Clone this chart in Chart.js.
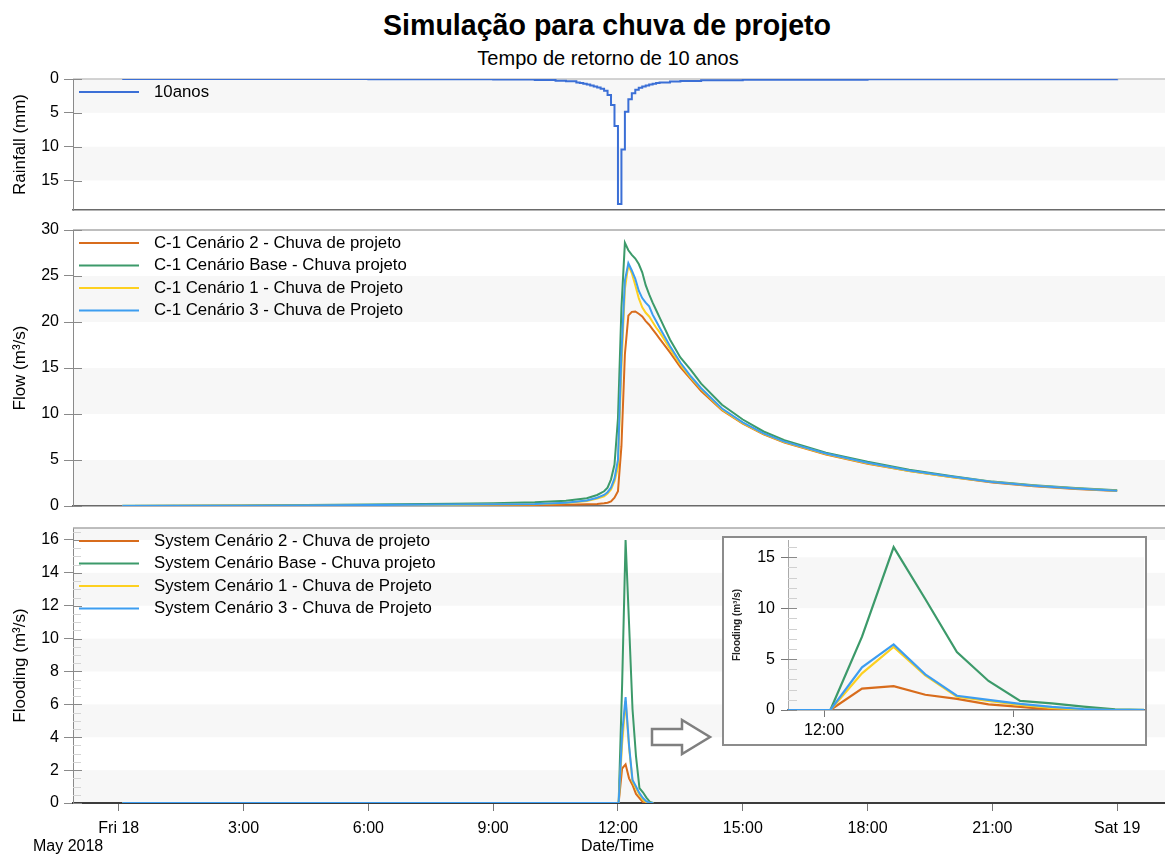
<!DOCTYPE html>
<html>
<head>
<meta charset="utf-8">
<script src="https://cdn.jsdelivr.net/npm/chart.js@4.4.1/dist/chart.umd.min.js"></script>
<style>
body { margin: 0; background: #fff; width: 1165px; height: 855px; overflow: hidden; position: relative; font-family: "Liberation Sans", Arial, sans-serif; }
canvas { position: absolute; left: 0; }
.txt { position: absolute; white-space: nowrap; color: #000; }
#title { top: 9px; left: 0; width: 1214px; text-align: center; font-weight: bold; font-size: 28.6px; line-height: 32px; }
#sub { top: 47px; left: 0; width: 1216px; text-align: center; font-size: 20px; line-height: 22px; }
#may { left: 33px; top: 837px; font-size: 16px; line-height: 18px; }
#dt { left: 581px; top: 837px; font-size: 16px; line-height: 18px; }
#inset { position: absolute; left: 722px; top: 536px; width: 421px; height: 206px; border: 2px solid #8c8c8c; background: #fff; }
#inset canvas { top: 0; left: 0; }
#arrow { position: absolute; left: 0; top: 0; }
</style>
</head>
<body>
<div id="title" class="txt">Simulação para chuva de projeto</div>
<div id="sub" class="txt">Tempo de retorno de 10 anos</div>
<canvas id="cRain" width="1165" height="160" style="top:60px"></canvas>
<canvas id="cFlow" width="1165" height="296" style="top:220px"></canvas>
<canvas id="cFlood" width="1165" height="337" style="top:518px"></canvas>
<div id="may" class="txt">May 2018</div>
<div id="dt" class="txt">Date/Time</div>
<svg id="arrow" width="1165" height="855">
  <polygon points="652,729 682,729 682,720 710,737 682,754 682,745 652,745" fill="#fff" stroke="#7f7f7f" stroke-width="2.5" stroke-linejoin="miter"/>
</svg>
<div id="inset"><canvas id="cInset" width="421" height="206"></canvas></div>

<script>
// rainfall hyetograph, 10-year return period (value holds from the given time)
const rainTimes = ['00:05','06:00','08:00','09:00','10:00','10:30','10:45','11:00','11:05','11:10',
  '11:15','11:20','11:25','11:30','11:35','11:40','11:45','11:50','11:55','12:00',
  '12:05','12:10','12:15','12:20','12:25','12:30','12:35','12:40','12:45','12:50',
  '12:55','13:00','13:15','13:30','14:00','15:00','18:00','24:00']
const rainValues = [0.01,0.03,0.05,0.08,0.15,0.25,0.35,0.5,0.6,0.7,
  0.8,0.95,1.1,1.25,1.45,1.75,2.35,3.85,6.95,18.45,
  10.4,4.85,3.0,2.1,1.6,1.3,1.1,0.95,0.8,0.7,
  0.6,0.5,0.38,0.28,0.18,0.1,0.04,0.02]

// flow at C-1
const flowTimes = ['00:05','03:00','06:00','08:00','09:00','10:00','10:45','11:15','11:30','11:40',
  '11:45','11:50','11:55','12:00','12:05','12:10','12:15','12:20','12:25','12:30',
  '12:35','12:40','12:45','12:50','12:55','13:00','13:15','13:30','13:45','14:00',
  '14:30','15:00','15:30','16:00','17:00','18:00','19:00','20:00','21:00','22:00',
  '23:00','24:00']
const flowC2 = [0,0.02,0.05,0.06,0.07,0.07,0.14,0.2,0.22,0.3,
  0.36,0.5,0.9,1.6,6.5,16.5,20.7,21.1,21.15,20.9,
  20.6,20.1,19.7,19.2,18.7,18.2,16.7,15.1,13.8,12.5,
  10.4,8.95,7.8,6.9,5.6,4.6,3.8,3.15,2.55,2.15,
  1.85,1.62]
const flowBase = [0.02,0.05,0.15,0.25,0.3,0.4,0.58,0.85,1.2,1.6,
  2.0,2.9,4.5,9.5,21.5,28.6,27.8,27.3,26.9,26.3,
  25.4,24.0,23.0,22.1,21.3,20.5,18.1,16.15,14.8,13.3,
  11.0,9.4,8.1,7.15,5.8,4.8,3.95,3.25,2.65,2.25,
  1.95,1.7]
const flowC1 = [0.01,0.03,0.08,0.12,0.17,0.2,0.32,0.55,0.8,1.05,
  1.35,1.8,2.7,4.2,15.0,23.6,26.2,25.3,24.0,22.6,
  21.6,21.0,20.6,20.0,19.4,18.9,17.1,15.4,13.95,12.7,
  10.5,9.0,7.85,6.95,5.65,4.65,3.8,3.15,2.6,2.2,
  1.9,1.65]
const flowC3 = [0.01,0.03,0.1,0.15,0.2,0.22,0.36,0.6,0.9,1.2,
  1.5,2.0,3.0,5.0,16.5,24.5,26.4,25.6,24.7,23.4,
  22.6,22.1,21.7,20.8,20.1,19.4,17.4,15.6,14.1,12.8,
  10.6,9.1,7.9,7.0,5.7,4.7,3.85,3.2,2.6,2.2,
  1.9,1.65]

// system flooding
const floodTimes = ['00:05','12:01','12:06','12:11','12:16','12:21','12:26','12:31','12:36','12:41','12:46','12:51']
const floodC2 = [0,0,2.1,2.35,1.5,1.1,0.55,0.3,0.05,0,0,0]
const floodBase = [0,0,7.2,16.0,10.9,5.7,2.85,0.9,0.65,0.33,0.07,0]
const floodC1 = [0,0,3.6,6.2,3.4,1.3,0.9,0.5,0.2,0.05,0,0]
const floodC3 = [0,0,4.2,6.45,3.5,1.4,1.0,0.6,0.3,0.1,0,0]

const flowNames = ['C-1 Cenário 2 - Chuva de projeto','C-1 Cenário Base - Chuva projeto','C-1 Cenário 1 - Chuva de Projeto','C-1 Cenário 3 - Chuva de Projeto']
const floodNames = ['System Cenário 2 - Chuva de projeto','System Cenário Base - Chuva projeto','System Cenário 1 - Chuva de Projeto','System Cenário 3 - Chuva de Projeto']
const seriesColors = ['#d86c1c','#3c9a6a','#fdd020','#3d9df0']
const drawOrder = [4, 3, 2, 1]

const hourTicks = [0,3,6,9,12,15,18,21,24]
const hourTickLabels = ['Fri 18','3:00','6:00','9:00','12:00','15:00','18:00','21:00','Sat 19']
const rainTicks = [0,5,10,15]
const flowTicks = [0,5,10,15,20,25,30]
const floodTicks = [0,2,4,6,8,10,12,14,16]
const insetYTicks = [0,5,10,15]
const insetXTicks = [12, 12.5]
const insetXTickLabels = ['12:00','12:30']

const FONT = '"Liberation Sans", Arial, sans-serif'
Chart.defaults.font.family = FONT
Chart.defaults.color = '#000'
Chart.defaults.animation = false

function toHours(s) {
    const [h, m] = s.split(':').map(Number)
    return h + m / 60
}
function toPoints(times, values) {
    return times.map((t, i) => ({ x: toHours(t), y: values[i] }))
}
// keep chart areas exactly where the layout padding puts them
function noPad(s) {
    s.paddingTop = 0
    s.paddingBottom = 0
    s.paddingLeft = 0
    s.paddingRight = 0
}

const panelPlugin = {
    id: 'panel',
    beforeDraw(chart, args, o) {
        const { ctx, chartArea: a } = chart
        const y = chart.scales.y
        ctx.save()
        ctx.fillStyle = '#f7f7f7'
        for (let v = 0; v < y.max; v += 2 * o.band) {
            const p1 = y.getPixelForValue(v)
            const p2 = y.getPixelForValue(Math.min(v + o.band, y.max))
            ctx.fillRect(a.left, Math.min(p1, p2), a.right - a.left, Math.abs(p2 - p1))
        }
        ctx.restore()
    },
    beforeDatasetsDraw(chart, args, o) {
        const { ctx, chartArea: a } = chart
        const y = chart.scales.y
        ctx.save()
        if (o.top) {
            ctx.strokeStyle = o.top
            ctx.lineWidth = 1.5
            ctx.beginPath()
            ctx.moveTo(a.left, a.top)
            ctx.lineTo(a.right, a.top)
            ctx.stroke()
        }
        (o.inner || []).forEach(t => {
            ctx.strokeStyle = t.color
            ctx.lineWidth = 1
            for (let v = 0; v <= y.max + 1e-9; v += t.step) {
                const py = Math.round(y.getPixelForValue(v)) + 0.5
                ctx.beginPath()
                ctx.moveTo(a.left, py)
                ctx.lineTo(a.left + t.len, py)
                ctx.stroke()
            }
        })
        ctx.restore()
    },
    afterDraw(chart, args, o) {
        if (!o.legend) return
        const { ctx, chartArea: a } = chart
        ctx.save()
        ctx.font = '16.8px ' + FONT
        ctx.textBaseline = 'middle'
        chart.data.datasets.forEach((ds, i) => {
            const ly = a.top + 13 + i * 22.5
            ctx.strokeStyle = ds.borderColor
            ctx.lineWidth = 2
            ctx.beginPath()
            ctx.moveTo(a.left + 6, ly)
            ctx.lineTo(a.left + 66, ly)
            ctx.stroke()
            ctx.fillStyle = '#000'
            ctx.fillText(ds.label, a.left + 81, ly)
        })
        ctx.restore()
    }
}

function hiddenX() {
    return {
        type: 'linear', min: -1.1, max: 25.15,
        ticks: { display: false },
        grid: { display: false },
        border: { display: true, color: '#6a6a6a', width: 1.5 },
        afterFit: s => { s.height = 0; noPad(s) }
    }
}

function leftY(tickValues, max, title, reverse) {
    return {
        type: 'linear', min: 0, max: max, reverse: !!reverse,
        afterBuildTicks: s => { s.ticks = tickValues.map(v => ({ value: v })) },
        afterFit: s => { s.width = 73; noPad(s) },
        ticks: { font: { size: 16 }, color: '#000', padding: 5 },
        grid: { display: true, drawOnChartArea: false, drawTicks: true, tickLength: 9, color: '#8a8a8a' },
        border: { display: true, color: '#8a8a8a', width: 1 },
        title: { display: true, text: title, font: { size: 17 }, color: '#000', padding: { top: 10, bottom: 0 } }
    }
}

function lineSets(names, times, series, width) {
    return names.map((n, i) => ({
        label: n,
        data: toPoints(times, series[i]),
        borderColor: seriesColors[i],
        borderWidth: width,
        pointRadius: 0,
        tension: 0,
        order: drawOrder[i]
    }))
}

new Chart(document.getElementById('cRain'), {
    type: 'line',
    data: {
        datasets: [{
            label: '10anos',
            data: toPoints(rainTimes, rainValues),
            borderColor: '#3b6fd6',
            borderWidth: 2,
            pointRadius: 0,
            stepped: 'before'
        }]
    },
    options: {
        responsive: false,
        devicePixelRatio: 1,
        layout: { padding: { top: 19, bottom: 10, left: 0, right: 0 } },
        plugins: { legend: { display: false }, tooltip: { enabled: false },
            panel: { band: 5, top: '#c4c4c4', legend: true, inner: [{ step: 5, len: 9, color: '#8a8a8a' }] } },
        scales: { x: hiddenX(), y: leftY(rainTicks, 19.35, 'Rainfall (mm)', true) }
    },
    plugins: [panelPlugin]
})

new Chart(document.getElementById('cFlow'), {
    type: 'line',
    data: { datasets: lineSets(flowNames, flowTimes, [flowC2, flowBase, flowC1, flowC3], 2) },
    options: {
        responsive: false,
        devicePixelRatio: 1,
        layout: { padding: { top: 10, bottom: 10, left: 0, right: 0 } },
        plugins: { legend: { display: false }, tooltip: { enabled: false },
            panel: { band: 5, top: '#a8a8a8', legend: true, inner: [{ step: 5, len: 9, color: '#8a8a8a' }] } },
        scales: { x: hiddenX(), y: leftY(flowTicks, 30, 'Flow (m³/s)') }
    },
    plugins: [panelPlugin]
})

const floodX = {
    type: 'linear', min: -1.1, max: 25.15, z: 1,
    afterBuildTicks: s => { s.ticks = hourTicks.map(v => ({ value: v })) },
    afterFit: s => { s.height = 52; noPad(s) },
    ticks: { font: { size: 16 }, color: '#000', padding: 8, maxRotation: 0, autoSkip: false,
        callback: (v, i) => hourTickLabels[i] },
    grid: { display: true, drawOnChartArea: false, drawTicks: true, tickLength: 8, color: '#777' },
    border: { display: true, color: '#3c3c3c', width: 2 }
}

new Chart(document.getElementById('cFlood'), {
    type: 'line',
    data: { datasets: lineSets(floodNames, floodTimes, [floodC2, floodBase, floodC1, floodC3], 2) },
    options: {
        responsive: false,
        devicePixelRatio: 1,
        layout: { padding: { top: 10, bottom: 0, left: 0, right: 0 } },
        plugins: { legend: { display: false }, tooltip: { enabled: false },
            panel: { band: 2, top: '#a8a8a8', legend: true,
                inner: [{ step: 0.5, len: 8, color: '#d4d4d4' }, { step: 2, len: 9, color: '#8a8a8a' }] } },
        scales: { x: floodX, y: leftY(floodTicks, 16.73, 'Flooding (m³/s)') }
    },
    plugins: [panelPlugin]
})

new Chart(document.getElementById('cInset'), {
    type: 'line',
    data: { datasets: lineSets(floodNames, floodTimes, [floodC2, floodBase, floodC1, floodC3], 2.2) },
    options: {
        responsive: false,
        devicePixelRatio: 1,
        layout: { padding: { top: 2, bottom: 0, left: 0, right: 1 } },
        plugins: { legend: { display: false }, tooltip: { enabled: false },
            panel: { band: 5, top: null, legend: false,
                inner: [{ step: 1, len: 9, color: '#d0d0d0' }, { step: 5, len: 9, color: '#8a8a8a' }] } },
        scales: {
            x: {
                type: 'linear', min: 11.905, max: 12.843,
                afterBuildTicks: s => { s.ticks = insetXTicks.map(v => ({ value: v })) },
                afterFit: s => { s.height = 34; noPad(s) },
                ticks: { font: { size: 16 }, color: '#000', padding: 4, maxRotation: 0, autoSkip: false,
                    callback: (v, i) => insetXTickLabels[i] },
                grid: { display: true, drawOnChartArea: false, drawTicks: true, tickLength: 7, color: '#777' },
                border: { display: true, color: '#777', width: 1.5 }
            },
            y: {
                type: 'linear', min: 0, max: 16.7,
                afterBuildTicks: s => { s.ticks = insetYTicks.map(v => ({ value: v })) },
                afterFit: s => { s.width = 64; noPad(s) },
                ticks: { font: { size: 16 }, color: '#000', padding: 6 },
                grid: { display: true, drawOnChartArea: false, drawTicks: true, tickLength: 7, color: '#777' },
                border: { display: true, color: '#aaa', width: 1 },
                title: { display: true, text: 'Flooding (m³/s)', font: { size: 10, weight: 'bold' }, color: '#222', padding: { top: 7, bottom: 0 } }
            }
        }
    },
    plugins: [panelPlugin]
})
</script>
</body>
</html>
